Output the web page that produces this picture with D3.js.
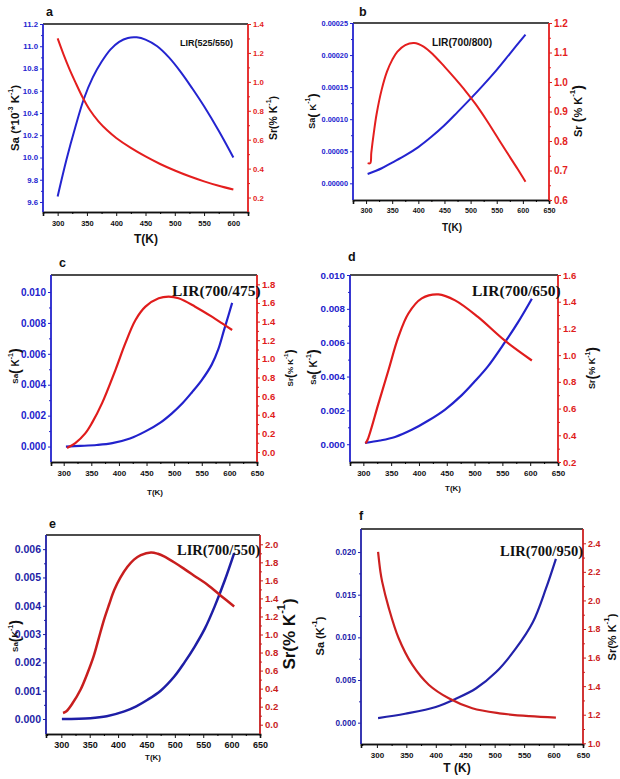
<!DOCTYPE html>
<html><head><meta charset="utf-8">
<script src="https://cdn.jsdelivr.net/npm/d3@7"></script>
<style>
html,body{margin:0;padding:0;background:#fff;}
svg{display:block;}
text{font-family:"Liberation Sans",Arial,sans-serif;font-weight:bold;}
</style></head>
<body>
<svg id="chart" width="620" height="779"></svg>
<script>
// ---------------- DATA ----------------
const panelIds = ["a","b","c","d","e","f"];
const lirLabels = ["LIR(525/550)","LIR(700/800)","LIR(700/475)","LIR(700/650)","LIR(700/550)","LIR(700/950)"];

const xTicksA = [300,350,400,450,500,550,600];
const xTicksB = [300,350,400,450,500,550,600,650];

const yLTicksA = [9.6,9.8,10.0,10.2,10.4,10.6,10.8,11.0,11.2];
const yRTicksA = [0.2,0.4,0.6,0.8,1.0,1.2,1.4];
const yLTicksB = [0,0.00005,0.0001,0.00015,0.0002,0.00025];
const yRTicksB = [0.6,0.7,0.8,0.9,1.0,1.1,1.2];
const yLTicksC = [0,0.002,0.004,0.006,0.008,0.010];
const yRTicksC = [0,0.2,0.4,0.6,0.8,1.0,1.2,1.4,1.6,1.8];
const yLTicksD = [0,0.002,0.004,0.006,0.008,0.010];
const yRTicksD = [0.2,0.4,0.6,0.8,1.0,1.2,1.4,1.6];
const yLTicksE = [0,0.001,0.002,0.003,0.004,0.005,0.006];
const yRTicksE = [0,0.2,0.4,0.6,0.8,1.0,1.2,1.4,1.6,1.8,2.0];
const yLTicksF = [0,0.005,0.010,0.015,0.020];
const yRTicksF = [1.0,1.2,1.4,1.6,1.8,2.0,2.2,2.4];

// Sa (absolute sensitivity) and Sr (relative sensitivity) vs T(K)
const saA = [[300,9.65],[315,9.98],[330,10.27],[345,10.53],[360,10.72],[375,10.86],[390,10.97],[405,11.04],[420,11.075],[435,11.08],[450,11.06],[470,11.0],[490,10.9],[510,10.77],[530,10.62],[550,10.46],[575,10.24],[600,10.0]];
const srA = [[300,1.30],[310,1.19],[320,1.09],[330,1.00],[343,0.89],[355,0.805],[370,0.725],[385,0.663],[400,0.612],[425,0.543],[450,0.484],[475,0.432],[500,0.387],[525,0.347],[550,0.312],[575,0.281],[600,0.255]];

const saB = [[303,0.0000146],[330,0.0000235],[350,0.0000323],[375,0.0000435],[400,0.0000565],[425,0.0000725],[450,0.0000905],[475,0.000111],[500,0.000132],[525,0.000154],[550,0.000177],[575,0.000202],[605,0.000232]];
const srB = [[303,0.725],[308,0.725],[310,0.76],[315,0.83],[320,0.89],[330,0.975],[340,1.035],[350,1.075],[360,1.103],[375,1.125],[392,1.132],[410,1.12],[430,1.09],[450,1.052],[470,1.012],[490,0.97],[510,0.924],[530,0.872],[550,0.816],[570,0.76],[590,0.705],[605,0.662]];

const saC = [[304,0],[330,0.00004],[360,0.0001],[388,0.00022],[420,0.00052],[448,0.00098],[475,0.00155],[496,0.00215],[515,0.0028],[532,0.0035],[550,0.0043],[568,0.0053],[580,0.0063],[590,0.0075],[598,0.00845],[605,0.0093]];
const srC = [[306,0.043],[321,0.096],[339,0.20],[351,0.31],[369.5,0.525],[393.6,0.88],[411.7,1.168],[430,1.417],[448,1.56],[472,1.65],[490,1.667],[508,1.65],[538,1.56],[569,1.45],[587,1.38],[605,1.31]];

const saD = [[303,0.00008],[330,0.00022],[357,0.00043],[387,0.00085],[417,0.0014],[447,0.00205],[477,0.0029],[500,0.0037],[524,0.0046],[554,0.0060],[578,0.0072],[603,0.0086]];
const srD = [[304,0.34],[308,0.37],[327,0.635],[345,0.885],[363,1.136],[381,1.312],[405,1.425],[435,1.455],[465,1.41],[506,1.286],[554,1.11],[603,0.96]];

const saE = [[301,0],[351,0.00003],[380,0.0001],[411,0.00027],[432,0.00045],[452,0.00068],[475,0.001],[499,0.0015],[517,0.002],[535,0.00256],[553,0.0032],[570,0.00397],[588,0.0049],[604.5,0.00586]];
const srE = [[303,0.13],[309,0.15],[320,0.24],[334,0.39],[346,0.57],[357,0.76],[366,0.96],[375,1.16],[384,1.33],[393,1.49],[404,1.63],[416.5,1.75],[428,1.83],[440,1.88],[458,1.91],[470,1.895],[481,1.865],[500,1.795],[517,1.725],[538,1.635],[558,1.55],[582,1.425],[604.5,1.31]];

const saF = [[302,0.00054],[348,0.00105],[400,0.00183],[434,0.0028],[468,0.004],[502,0.0059],[536,0.0087],[565,0.0118],[587,0.0157],[604,0.0192]];
const srF = [[302,2.34],[306,2.2],[309,2.13],[320,1.95],[337,1.735],[360,1.55],[388,1.41],[422,1.315],[462,1.245],[508,1.21],[559,1.19],[604,1.18]];

// ---------------- LAYOUT ----------------
const svg = d3.select("#chart");
const F = d3.format;

function richText(g, x, y, parts, rotate, anchor){
  const t = g.append("text")
    .attr("transform", `translate(${x},${y})` + (rotate ? " rotate(-90)" : ""))
    .attr("text-anchor", anchor || "middle");
  let shift = 0;
  parts.forEach(p => {
    const s = t.append("tspan").text(p.t).attr("font-size", p.s);
    const target = p.sup ? -p.s * 0.75 : 0;
    s.attr("dy", target - shift);
    shift = target;
  });
  return t;
}

const panels = [
  {box:[43,24,248,212], xd:[275,625], xt:xTicksA, yl:[9.51,11.2], ylt:yLTicksA, ylf:F(".1f"), yr:[0.1,1.4], yrt:yRTicksA, yrf:F(".1f"),
   sa:saA, sr:srA, blue:"#2424d0", red:"#e41e1e", sw:2, fL:7.8, fR:7.8, fX:7.5, xTickY:226,
   letter:[46,16], lir:{x:180,y:46,s:9,serif:false},
   xTitle:{x:146,y:243,parts:[{t:"T(K)",s:12}]},
   lTitle:{x:15,y:118,parts:[{t:"Sa (*10",s:11.5},{t:"-3",s:7,sup:true},{t:" K",s:11.5},{t:"-1",s:7,sup:true},{t:")",s:11.5}]},
   rTitle:{x:273,y:118,parts:[{t:"Sr(% K",s:10.5},{t:"-1",s:7,sup:true},{t:")",s:10.5}]}},
  {box:[353,23,549,200], xd:[275,650], xt:xTicksB, yl:[-0.000026,0.00025], ylt:yLTicksB, ylf:F(".5f"), yr:[0.6,1.2], yrt:yRTicksB, yrf:F(".1f"),
   sa:saB, sr:srB, blue:"#2424d0", red:"#e41e1e", sw:2, fL:7.3, fR:10, fX:7.2, xTickY:213,
   letter:[359,16], lir:{x:432,y:46,s:10.2,serif:false},
   xTitle:{x:452,y:231,parts:[{t:"T(K)",s:10}]},
   lTitle:{x:312,y:111,parts:[{t:"Sa",s:9},{t:"(",s:13},{t:" K",s:9.5},{t:"-1",s:7,sup:true},{t:")",s:13}]},
   rTitle:{x:578,y:111,parts:[{t:"Sr ",s:11},{t:"(",s:14},{t:"% K",s:11},{t:"-1",s:8,sup:true},{t:")",s:14}]}},
  {box:[51,275,257,462], xd:[277,650], xt:xTicksB, yl:[-0.001,0.0111], ylt:yLTicksC, ylf:F(".3f"), yr:[-0.107,1.9], yrt:yRTicksC, yrf:F(".1f"),
   sa:saC, sr:srC, blue:"#2222cc", red:"#e01c1c", sw:2.2, fL:10, fR:9.5, fX:8, xTickY:476,
   letter:[59,267], lir:{x:172,y:296,s:15.5,serif:true},
   xTitle:{x:155,y:495,parts:[{t:"T(K)",s:8}]},
   lTitle:{x:15,y:366,parts:[{t:"Sa",s:8},{t:"(",s:14},{t:" K",s:10},{t:"-1",s:7,sup:true},{t:")",s:14}]},
   rTitle:{x:290,y:368,parts:[{t:"Sr",s:8},{t:"(",s:12},{t:"% K",s:8},{t:"-1",s:6,sup:true},{t:")",s:12}]}},
  {box:[350,275,558,462], xd:[276,650], xt:xTicksB, yl:[-0.00105,0.010], ylt:yLTicksD, ylf:F(".3f"), yr:[0.2,1.6], yrt:yRTicksD, yrf:F(".1f"),
   sa:saD, sr:srD, blue:"#2222cc", red:"#e01c1c", sw:2.2, fL:9.8, fR:9.6, fX:8, xTickY:476,
   letter:[348,261], lir:{x:472,y:296,s:15.5,serif:true},
   xTitle:{x:453,y:491,parts:[{t:"T(K)",s:8}]},
   lTitle:{x:313,y:367,parts:[{t:"Sa",s:8},{t:"(",s:14},{t:" K",s:10},{t:"-1",s:7,sup:true},{t:")",s:14}]},
   rTitle:{x:592,y:368,parts:[{t:"Sr",s:9},{t:"(",s:14},{t:"% K",s:9},{t:"-1",s:7,sup:true},{t:")",s:14}]}},
  {box:[46,535,260,734], xd:[273,650], xt:xTicksB, yl:[-0.00053,0.0065], ylt:yLTicksE, ylf:F(".3f"), yr:[-0.103,2.103], yrt:yRTicksE, yrf:F(".1f"),
   sa:saE, sr:srE, blue:"#1e1ea6", red:"#c81e1e", sw:2.5, fL:10.5, fR:9.6, fX:9, xTickY:748,
   letter:[49,528], lir:{x:177,y:555,s:14.5,serif:true},
   xTitle:{x:153,y:760,parts:[{t:"T(K)",s:8}]},
   lTitle:{x:15,y:636,parts:[{t:"Sa",s:8},{t:"(",s:14},{t:"K",s:9},{t:"-1",s:7,sup:true},{t:")",s:14}]},
   rTitle:{x:289,y:634,parts:[{t:"Sr(% K",s:17},{t:"-1",s:11,sup:true},{t:")",s:17}]}},
  {box:[361,529,583,744], xd:[273,650], xt:xTicksB, yl:[-0.0025,0.0227], ylt:yLTicksF, ylf:F(".3f"), yr:[0.995,2.5], yrt:yRTicksF, yrf:F(".1f"),
   sa:saF, sr:srF, blue:"#2222aa", red:"#cc2020", sw:2.2, fL:8.2, fR:8.9, fX:8, xTickY:758,
   letter:[359,520], lir:{x:500,y:556,s:14.5,serif:true},
   xTitle:{x:457,y:772,parts:[{t:"T (K)",s:12}]},
   lTitle:{x:320,y:636,parts:[{t:"Sa (K",s:11},{t:"-1",s:8,sup:true},{t:")",s:11}]},
   rTitle:{x:612,y:637,parts:[{t:"Sr(% K",s:11},{t:"-1",s:8,sup:true},{t:")",s:11}]}}
];

function mids(arr){ const m=[]; for(let i=0;i<arr.length-1;i++) m.push((arr[i]+arr[i+1])/2); return m; }

panels.forEach((p,i) => {
  const [x0,y0,x1,y1] = p.box;
  const g = svg.append("g");
  const x = d3.scaleLinear().domain(p.xd).range([x0,x1]);
  const yL = d3.scaleLinear().domain(p.yl).range([y1,y0]);
  const yR = d3.scaleLinear().domain(p.yr).range([y1,y0]);

  // bottom axis (black)
  const gx = g.append("g").attr("transform",`translate(0,${y1})`)
    .call(d3.axisBottom(x).tickValues(p.xt).tickFormat(d3.format("d")).tickSize(4).tickPadding(2));
  gx.selectAll("text").attr("font-size",p.fX).attr("fill","#111").attr("y", p.xTickY - y1).attr("dy",0);
  const xm = mids(p.xt.concat([p.xt[p.xt.length-1]+50])).filter(v=>v<p.xd[1]);
  const xmin = [p.xt[0]-25].filter(v=>v>p.xd[0]);
  g.append("g").attr("transform",`translate(0,${y1})`)
    .call(d3.axisBottom(x).tickValues(xmin.concat(xm)).tickFormat("").tickSize(2));
  g.append("line").attr("x1",x0).attr("x2",x1).attr("y1",y0).attr("y2",y0).attr("stroke","#111").attr("stroke-width",1.6);

  // left axis (blue)
  const gl = g.append("g").attr("transform",`translate(${x0},0)`)
    .call(d3.axisLeft(yL).tickValues(p.ylt).tickFormat(p.ylf).tickSize(3).tickPadding(2));
  gl.selectAll("text").attr("font-size",p.fL).attr("fill",p.blue);
  const glm = g.append("g").attr("transform",`translate(${x0},0)`)
    .call(d3.axisLeft(yL).tickValues(mids(p.ylt)).tickFormat("").tickSize(2));
  [gl,glm].forEach(a=>{a.selectAll("line").attr("stroke",p.blue); a.select(".domain").remove();});
  g.append("line").attr("x1",x0).attr("x2",x0).attr("y1",y0).attr("y2",y1).attr("stroke",p.blue).attr("stroke-width",1.8);

  // right axis (red)
  const gr = g.append("g").attr("transform",`translate(${x1},0)`)
    .call(d3.axisRight(yR).tickValues(p.yrt).tickFormat(p.yrf).tickSize(3).tickPadding(2));
  gr.selectAll("text").attr("font-size",p.fR).attr("fill",p.red);
  const grm = g.append("g").attr("transform",`translate(${x1},0)`)
    .call(d3.axisRight(yR).tickValues(mids(p.yrt)).tickFormat("").tickSize(2));
  [gr,grm].forEach(a=>{a.selectAll("line").attr("stroke",p.red); a.select(".domain").remove();});
  g.append("line").attr("x1",x1).attr("x2",x1).attr("y1",y0).attr("y2",y1).attr("stroke",p.red).attr("stroke-width",1.8);

  g.selectAll(".domain").attr("stroke","#111").attr("stroke-width",1.6);
  gx.selectAll("line").attr("stroke","#111");

  // curves
  const crv = d3.curveCatmullRom.alpha(0.5);
  const lineL = d3.line().x(d=>x(d[0])).y(d=>yL(d[1])).curve(crv);
  const lineR = d3.line().x(d=>x(d[0])).y(d=>yR(d[1])).curve(crv);
  g.append("path").datum(p.sa).attr("d",lineL).attr("fill","none").attr("stroke",p.blue).attr("stroke-width",p.sw);
  g.append("path").datum(p.sr).attr("d",lineR).attr("fill","none").attr("stroke",p.red).attr("stroke-width",p.sw);

  // texts
  g.append("text").attr("x",p.letter[0]).attr("y",p.letter[1]).attr("font-size",12.5).attr("fill","#111").text(panelIds[i]);
  const lt = g.append("text").attr("x",p.lir.x).attr("y",p.lir.y).attr("font-size",p.lir.s).attr("fill","#111").text(lirLabels[i]);
  if (p.lir.serif) lt.style("font-family","'Liberation Serif','Times New Roman',serif");
  richText(g, p.xTitle.x, p.xTitle.y, p.xTitle.parts, false, "middle").attr("fill","#111");
  richText(g, p.lTitle.x, p.lTitle.y, p.lTitle.parts, true, "middle").attr("fill","#111").attr("dominant-baseline","central");
  richText(g, p.rTitle.x, p.rTitle.y, p.rTitle.parts, true, "middle").attr("fill","#111").attr("dominant-baseline","central");
});
</script>
</body></html>
